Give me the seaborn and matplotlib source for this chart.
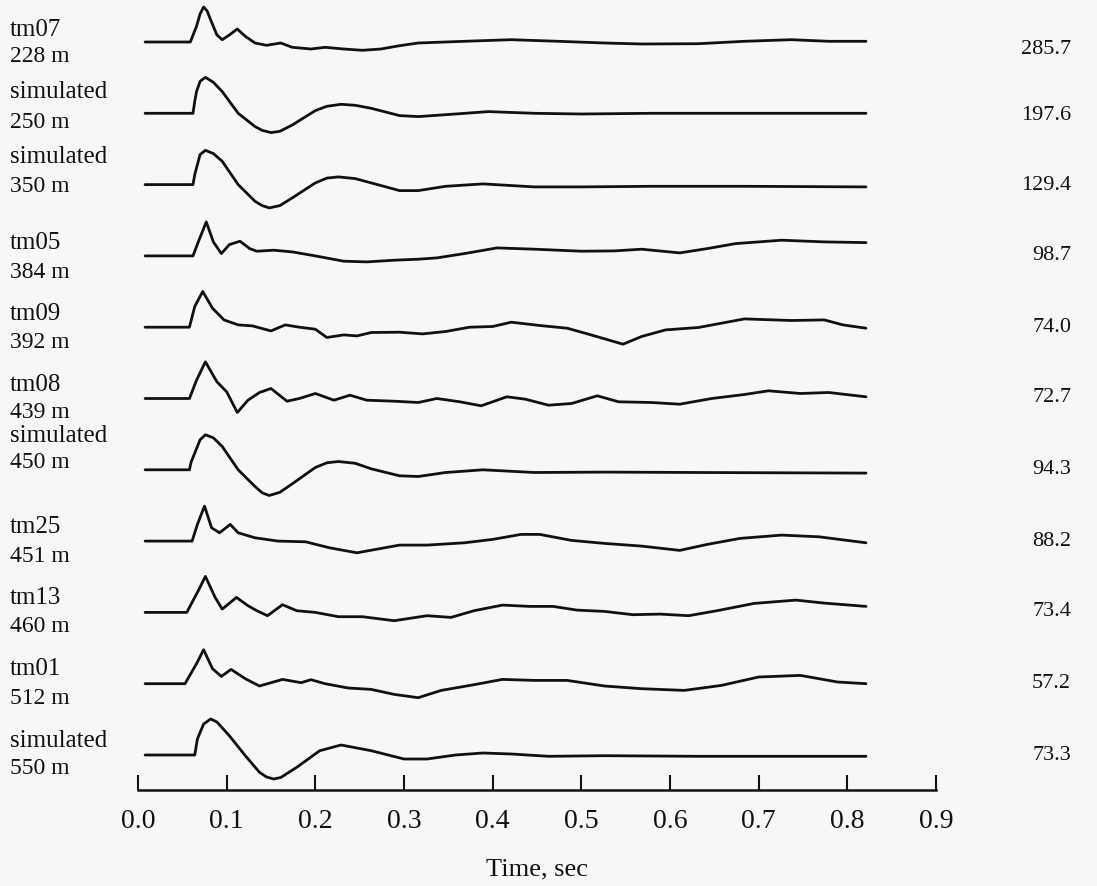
import pandas as pd
import seaborn as sns
import matplotlib.pyplot as plt
from matplotlib import transforms

# estações e distâncias
estacoes = ["tm07", "simulated", "simulated", "tm05", "tm09", "tm08",
            "simulated", "tm25", "tm13", "tm01", "simulated"]
distancias = ["228 m", "250 m", "350 m", "384 m", "392 m", "439 m",
              "450 m", "451 m", "460 m", "512 m", "550 m"]
picos = ["285.7", "197.6", "129.4", "98.7", "74.0", "72.7",
         "94.3", "88.2", "73.4", "57.2", "73.3"]

# formas de onda (tempo em s, amplitude normalizada)
t_tm07 = [0.008, 0.059, 0.066, 0.070, 0.074, 0.078, 0.082, 0.089, 0.095, 0.103, 0.112, 0.121, 0.132,
          0.145, 0.161, 0.174, 0.195, 0.211, 0.232, 0.253, 0.274, 0.295, 0.316, 0.368, 0.421, 0.474,
          0.526, 0.568, 0.632, 0.684, 0.737, 0.779, 0.821]
a_tm07 = [0, 0, 15.7, 28, 35, 31, 22, 7, 2.3, 7, 13, 5.7, -1,
          -3.3, -1, -5.3, -7, -5.3, -7, -8.3, -7, -3.7, -1, 0.7, 2.3, 0.7,
          -1, -2, -1.7, 0.7, 2.3, 0.7, 0.7]

t_sim250 = [0.008, 0.062, 0.064, 0.066, 0.070, 0.076, 0.085, 0.095, 0.113, 0.132, 0.140, 0.150, 0.160,
            0.174, 0.200, 0.213, 0.229, 0.245, 0.263, 0.295, 0.316, 0.358, 0.395, 0.447, 0.500, 0.579,
            0.684, 0.821]
a_sim250 = [0, 0, 12, 21.7, 32, 36, 31, 21.7, 0, -13.3, -17, -19.3, -18,
            -11.7, 2.7, 7, 9, 8, 5, -2.3, -3.3, -0.7, 1.7, 0, -0.7, 0,
            0, 0]

t_sim350 = [0.008, 0.062, 0.064, 0.066, 0.070, 0.076, 0.085, 0.095, 0.113, 0.132, 0.140, 0.148, 0.160,
            0.174, 0.200, 0.213, 0.226, 0.245, 0.263, 0.295, 0.316, 0.347, 0.389, 0.447, 0.500, 0.579,
            0.684, 0.821]
a_sim350 = [0, 0, 10, 16.7, 30, 34.3, 31, 23.3, 0, -16.7, -21, -23.3, -21,
            -13.3, 1.7, 6.5, 7.7, 6, 1.7, -6, -6, -1.7, 0.7, -2.3, -2.3, -1.7,
            -1.7, -2.3]

t_tm05 = [0.008, 0.062, 0.068, 0.077, 0.085, 0.094, 0.103, 0.115, 0.126, 0.134, 0.153, 0.174, 0.200,
          0.232, 0.258, 0.289, 0.316, 0.337, 0.368, 0.405, 0.447, 0.500, 0.537, 0.568, 0.611, 0.642,
          0.674, 0.726, 0.774, 0.821]
a_tm05 = [0, 0, 14, 34, 14, 2.3, 11.3, 14.7, 7.3, 4.7, 5.7, 4, 0,
          -5.3, -6, -4.3, -3.3, -2, 2.3, 8, 6.7, 4.7, 5, 6.7, 3, 7.3,
          12.3, 15.7, 14, 13.3]

t_tm09 = [0.008, 0.058, 0.064, 0.073, 0.084, 0.097, 0.113, 0.129, 0.150, 0.166, 0.182, 0.200, 0.213,
          0.232, 0.247, 0.263, 0.295, 0.321, 0.347, 0.374, 0.400, 0.421, 0.453, 0.484, 0.511, 0.547,
          0.568, 0.595, 0.632, 0.684, 0.737, 0.774, 0.795, 0.821]
a_tm09 = [0, 0, 20.7, 35.7, 19, 7.3, 2.3, 1.3, -3.7, 2.3, 0, -2, -10.3,
          -7.7, -8.7, -5.3, -5, -6.7, -4.3, 0, 0.7, 5, 1.7, -1, -7.7, -17,
          -9.3, -2.7, -0.3, 8.3, 6.7, 7.3, 2.3, -1]

t_tm08 = [0.008, 0.058, 0.066, 0.076, 0.089, 0.100, 0.112, 0.124, 0.137, 0.150, 0.168, 0.182, 0.200,
          0.221, 0.239, 0.258, 0.289, 0.316, 0.337, 0.363, 0.387, 0.416, 0.437, 0.463, 0.489, 0.518,
          0.542, 0.579, 0.611, 0.647, 0.684, 0.711, 0.747, 0.779, 0.821]
a_tm08 = [0, 0, 18.3, 36.7, 16.7, 6.7, -14, -1.7, 6, 10, -2.7, 0, 5,
          -1.7, 3.3, -1.7, -2.7, -4, 0, -3.3, -7.3, 1.7, -0.7, -6.7, -5, 2.7,
          -3.3, -4, -5.7, 0, 4, 7.7, 5, 6, 1.7]

t_sim450 = [0.008, 0.058, 0.060, 0.064, 0.070, 0.076, 0.085, 0.095, 0.113, 0.132, 0.140, 0.148, 0.160,
            0.174, 0.200, 0.213, 0.226, 0.245, 0.263, 0.295, 0.316, 0.347, 0.389, 0.447, 0.526, 0.632,
            0.821]
a_sim450 = [0, 0, 8, 16.7, 30, 35, 32, 23.3, 0, -16.7, -23, -25.7, -22.5,
            -14, 2.3, 7, 8.3, 6.5, 1, -6, -6.7, -2.7, 0, -2.7, -2.3, -2.7,
            -3.3]

t_tm25 = [0.008, 0.061, 0.067, 0.075, 0.083, 0.092, 0.104, 0.113, 0.132, 0.158, 0.189, 0.216, 0.247,
          0.268, 0.295, 0.326, 0.368, 0.400, 0.432, 0.453, 0.489, 0.526, 0.568, 0.611, 0.642, 0.679,
          0.726, 0.768, 0.821]
a_tm25 = [0, 0, 16.7, 35, 13.3, 8.3, 16.7, 8.3, 3.3, 0, -0.7, -6.7, -11.7,
          -8.3, -4, -4, -1.7, 1.7, 6.7, 6.7, 0.7, -2.3, -5, -9.3, -3.3, 2.7,
          6, 4.3, -1.7]

t_tm13 = [0.008, 0.055, 0.068, 0.076, 0.087, 0.095, 0.111, 0.124, 0.134, 0.146, 0.163, 0.179, 0.200,
          0.226, 0.253, 0.289, 0.326, 0.353, 0.379, 0.411, 0.442, 0.468, 0.495, 0.526, 0.558, 0.589,
          0.621, 0.653, 0.695, 0.742, 0.774, 0.821]
a_tm13 = [0, 0, 21.7, 36, 15, 3.3, 15, 6.7, 1.7, -3.3, 7.7, 1.7, 0,
          -4.3, -4.3, -8.3, -3.3, -5, 1.7, 7.3, 6, 6, 2.3, 1, -2.3, -1.7,
          -3.3, 1.7, 9, 12.3, 9.3, 6]

t_tm01 = [0.008, 0.053, 0.066, 0.074, 0.084, 0.094, 0.105, 0.121, 0.137, 0.150, 0.163, 0.184, 0.195,
          0.211, 0.237, 0.263, 0.289, 0.316, 0.342, 0.379, 0.411, 0.447, 0.484, 0.526, 0.568, 0.616,
          0.658, 0.700, 0.747, 0.789, 0.821]
a_tm01 = [0, 0, 20, 34, 15, 7.3, 14.3, 5, -2.3, 1, 4.3, 1, 4,
          0, -4.3, -5.7, -10.7, -14, -6.7, -1, 4.3, 3.3, 3.3, -2.3, -5, -6.7,
          -1.7, 6.7, 8.3, 1.7, 0]

t_sim550 = [0.008, 0.064, 0.067, 0.074, 0.082, 0.089, 0.103, 0.121, 0.137, 0.145, 0.153, 0.161, 0.179,
            0.205, 0.229, 0.263, 0.300, 0.326, 0.358, 0.389, 0.421, 0.463, 0.526, 0.632, 0.821]
a_sim550 = [0, 0, 16, 31, 36, 33, 19.3, -0.7, -17.3, -22, -24, -22.5, -12.3,
            4.3, 10, 4.3, -4, -4, 0, 2, 1, -1.3, -0.7, -1.3, -1.3]

tempos = [t_tm07, t_sim250, t_sim350, t_tm05, t_tm09, t_tm08,
          t_sim450, t_tm25, t_tm13, t_tm01, t_sim550]
amplitudes = [a_tm07, a_sim250, a_sim350, a_tm05, a_tm09, a_tm08,
              a_sim450, a_tm25, a_tm13, a_tm01, a_sim550]

# layout (pixels da figura)
W, H = 1097, 886
eixo_y = 790
linhas_base = [42 + 71.3 * i for i in range(11)]
rotulo_cima = [30, 92, 157, 243, 314, 385, 436, 527, 598, 669, 741]
rotulo_baixo = [57, 122, 186, 272, 343, 413, 463, 556, 627, 698, 768]
pico_y = [50, 115, 186, 256, 327, 398, 470, 541, 612, 684, 755]

sns.set_theme(style="white")
plt.rcParams['font.family'] = ['Liberation Serif', 'DejaVu Serif']

fundo = "#f8f7f8"
tinta = "#111111"

fig = plt.figure(figsize=(W / 100, H / 100), dpi=100, facecolor=fundo)
ax = fig.add_axes([138 / W, 1 - eixo_y / H, (936 - 138) / W, eixo_y / H])
ax.set_facecolor(fundo)

linhas = []
for i in range(len(tempos)):
    desloc = eixo_y - linhas_base[i]
    for t, a in zip(tempos[i], amplitudes[i]):
        linhas.append({'Tempo': t, 'Sinal': desloc + a, 'traco': i})
dados = pd.DataFrame(linhas)

sns.lineplot(x='Tempo', y='Sinal', data=dados, units='traco', estimator=None,
             color=tinta, linewidth=2.0, ax=ax)

ax.set_xlim(0, 0.9)
ax.set_ylim(0, eixo_y)
ax.set_xticks([0.0, 0.1, 0.2, 0.3, 0.4, 0.5, 0.6, 0.7, 0.8, 0.9])
ax.set_xticklabels(["0.0", "0.1", "0.2", "0.3", "0.4", "0.5", "0.6", "0.7", "0.8", "0.9"])
ax.set_yticks([])
ax.set_ylabel("")
for lado in ['top', 'left', 'right']:
    ax.spines[lado].set_visible(False)
ax.spines['bottom'].set_color(tinta)
ax.spines['bottom'].set_linewidth(1.8)
ax.tick_params(axis='x', direction='in', length=11, width=1.5, color=tinta,
               labelsize=20, labelcolor=tinta, pad=14, bottom=True)
ax.set_xlabel("Time, sec", fontsize=19, color=tinta, labelpad=17)

trans = transforms.blended_transform_factory(fig.transFigure, ax.transData)
for i in range(len(estacoes)):
    ax.text(10 / W, eixo_y - rotulo_cima[i], estacoes[i], transform=trans,
            ha='left', va='center', fontsize=18, color=tinta)
    ax.text(10 / W, eixo_y - rotulo_baixo[i], distancias[i], transform=trans,
            ha='left', va='center', fontsize=17, color=tinta)
    ax.text(1071 / W, eixo_y - pico_y[i], picos[i], transform=trans,
            ha='right', va='center', fontsize=16, color=tinta)

plt.savefig('out.png', dpi=100, facecolor=fundo)
